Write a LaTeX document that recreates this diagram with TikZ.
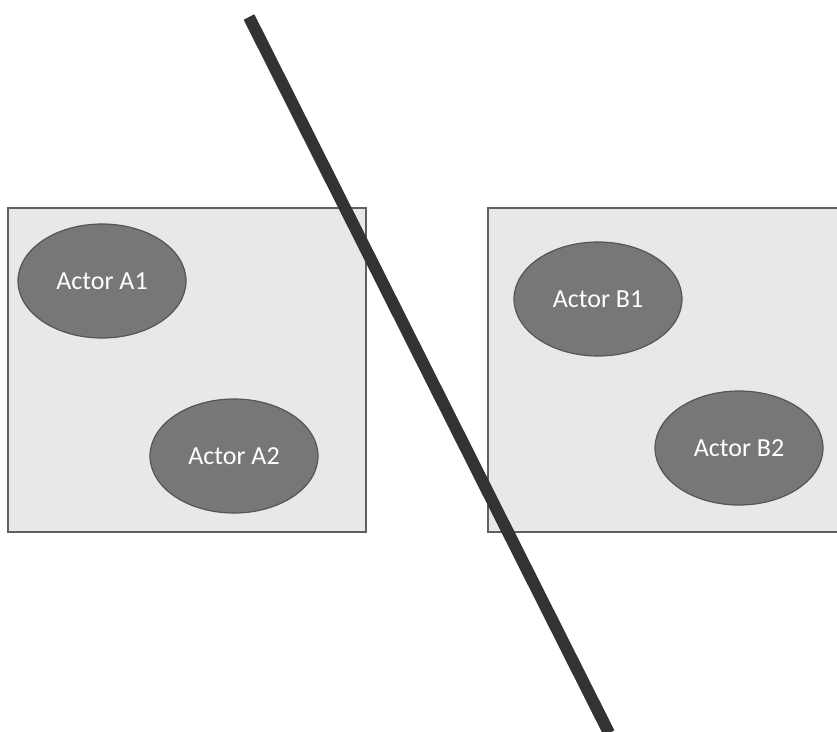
\documentclass[tikz,border=0pt]{standalone}
\usepackage{fontspec}
\setmainfont{Carlito}
\usetikzlibrary{shapes.geometric}
\definecolor{boxfill}{HTML}{E8E8E8}
\definecolor{boxline}{HTML}{606060}
\definecolor{actorfill}{HTML}{777777}
\definecolor{actorline}{HTML}{555555}
\definecolor{barline}{HTML}{333333}
\tikzset{
  domainbox/.style={draw=boxline, fill=boxfill, line width=1.6pt, inner sep=0pt, outer sep=0pt},
  actorell/.style={ellipse, draw=actorline, fill=actorfill, line width=1.2pt,
    minimum width=168pt, minimum height=114pt, inner sep=0pt,
    text=white, font=\fontsize{26}{30}\selectfont},
  divider/.style={draw=barline, line width=12pt, line cap=butt}
}
\begin{document}
\begin{tikzpicture}[x=1pt,y=-1pt]
\useasboundingbox (0,0) rectangle (837,731);
\clip (0,0) rectangle (837,731);
\fill[white] (0,0) rectangle (837,731);
\node[domainbox, minimum width=358pt, minimum height=324pt] (boxA) at (187,370) {};
\node[domainbox, minimum width=370pt, minimum height=324pt, anchor=west] (boxB) at (488,370) {};
\node[actorell] (a1) at (102,281) {Actor A1};
\node[actorell] (a2) at (234,456) {Actor A2};
\node[actorell] (b1) at (598,299) {Actor B1};
\node[actorell] (b2) at (739,448) {Actor B2};
\coordinate (top) at (249,17);
\coordinate (bottom) at (609,733);
\draw[divider] (top) -- (bottom);
\end{tikzpicture}
\end{document}
